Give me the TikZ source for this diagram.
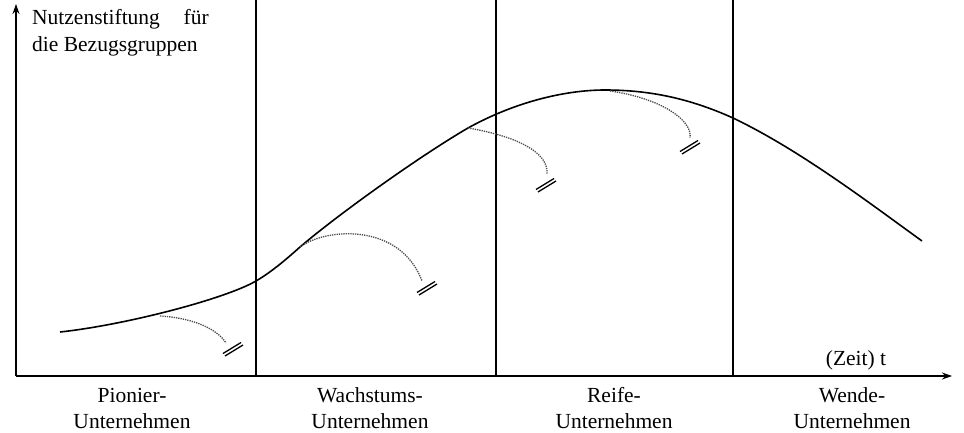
\documentclass[tikz,border=0pt]{standalone}
\usepackage{fontspec}
\setmainfont{Liberation Serif}
\usetikzlibrary{arrows.meta}
\tikzset{
  lbl/.style={font=\fontsize{21.5}{26}\selectfont, inner sep=0pt, anchor=base},
  axis/.style={line width=1.3pt, -{Stealth[length=10pt,width=7pt]}},
  divider/.style={line width=1.1pt},
  curve/.style={line width=1.6pt},
  branch/.style={line width=1.3pt, densely dotted, draw=black!70},
  pics/dslash/.style={code={
    \draw[line width=1.3pt] (-10,4.5) -- (8,-6.5);
    \draw[line width=1.3pt] (-8,7) -- (10,-4);
  }}
}
\begin{document}
\begin{tikzpicture}[x=1pt,y=-1pt]
\useasboundingbox (0,0) rectangle (964,433);
% axes
\coordinate (o) at (16,376);
\coordinate (ytop) at (16,4);
\coordinate (xend) at (952,376);
\draw[axis] (o) -- (ytop);
\draw[axis] (o) -- (xend);
% dividers
\foreach \x/\n in {256/a,496/b,733/c}{
  \coordinate (t\n) at (\x,0);
  \coordinate (b\n) at (\x,376);
  \draw[divider] (t\n) -- (b\n);
}
% main curve
\coordinate (c0) at (60,332);
\coordinate (c1) at (256,281);
\coordinate (c2) at (300,247);
\coordinate (c3) at (468,128);
\coordinate (c4) at (605,90);
\coordinate (c5) at (733,118);
\coordinate (c6) at (922,241);
\draw[curve] (c0) .. controls (125,325) and (225,299) .. (c1)
  .. controls (270,272.9) and (285,260.5) .. (c2)
  .. controls (340,213) and (420,156) .. (c3)
  .. controls (515,102) and (565,90) .. (c4)
  .. controls (650,90) and (690,98.6) .. (c5)
  .. controls (800,150) and (870,203.5) .. (c6);
% branches
\coordinate (s1) at (160,316);
\coordinate (e1) at (226,343);
\coordinate (s2) at (300,247);
\coordinate (e2) at (422,281);
\coordinate (s3) at (468,128);
\coordinate (e3) at (547,174);
\coordinate (s4) at (610,91);
\coordinate (e4) at (690,138);
\draw[branch] (s1) .. controls (195,318) and (218,330) .. (e1);
\draw[branch] (s2) .. controls (325,228) and (400,222) .. (e2);
\draw[branch] (s3) .. controls (510,135) and (549,150) .. (e3);
\draw[branch] (s4) .. controls (660,98) and (693,120) .. (e4);
\pic at (233,349) {dslash};
\pic at (427,288) {dslash};
\pic at (546,185) {dslash};
\pic at (690,147) {dslash};
% labels
\node[lbl, anchor=base west] (yl1) at (32,25) {Nutzenstiftung\hspace{1.1em}für};
\node[lbl, anchor=base west] (yl2) at (32,52) {die Bezugsgruppen};
\node[lbl] (xl) at (856,365) {(Zeit) t};
\node[lbl] (p1) at (132,402) {Pionier-};
\node[lbl] (p2) at (132,428) {Unternehmen};
\node[lbl] (w1) at (370,402) {Wachstums-};
\node[lbl] (w2) at (370,428) {Unternehmen};
\node[lbl] (r1) at (614,402) {Reife-};
\node[lbl] (r2) at (614,428) {Unternehmen};
\node[lbl] (d1) at (852,402) {Wende-};
\node[lbl] (d2) at (852,428) {Unternehmen};
\end{tikzpicture}
\end{document}
